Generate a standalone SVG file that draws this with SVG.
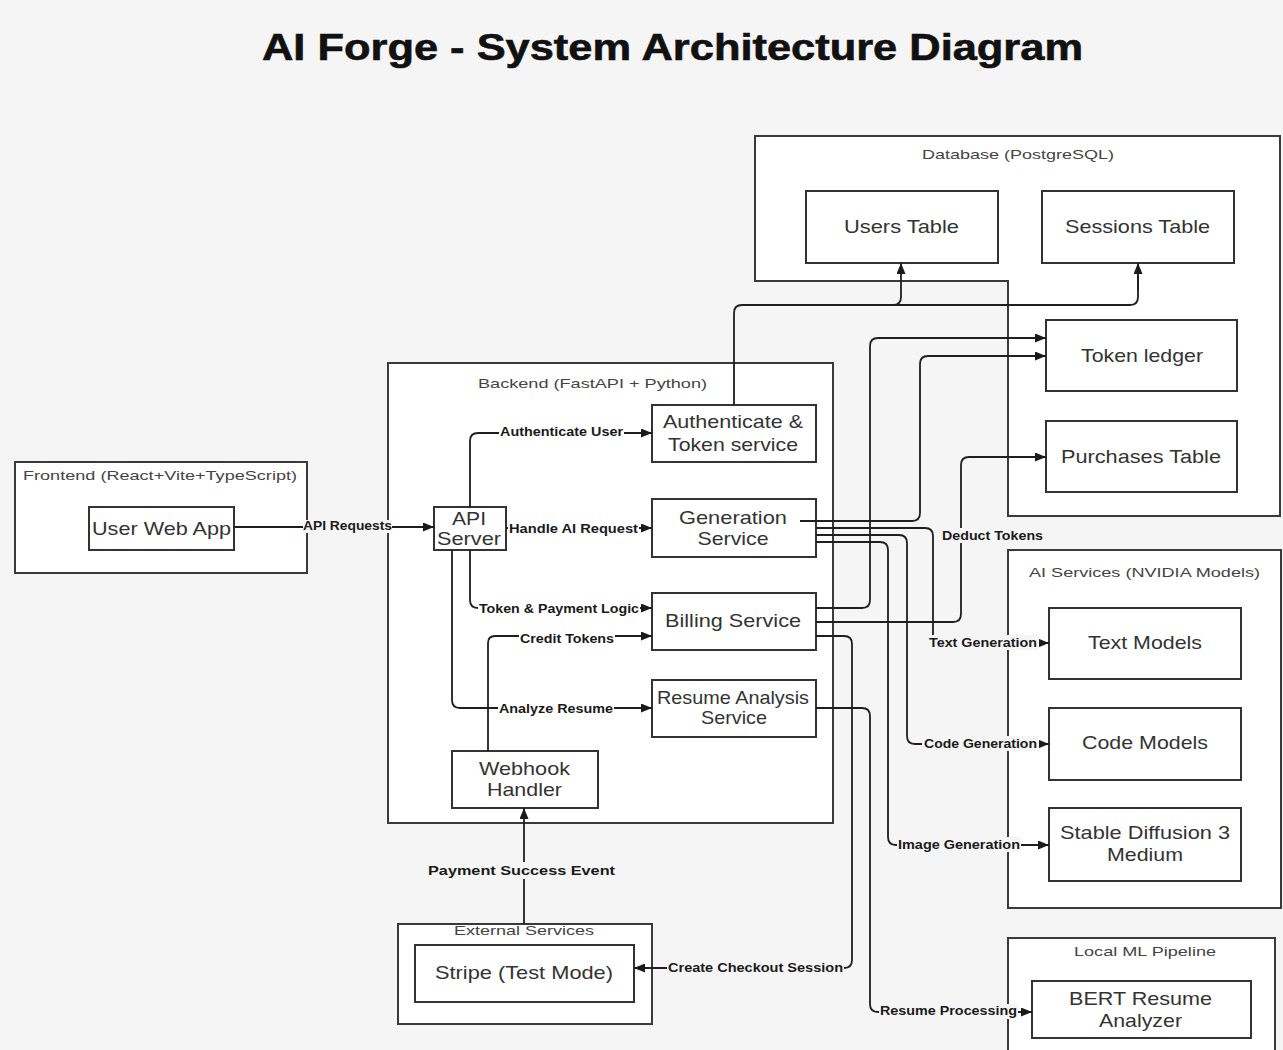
<svg xmlns="http://www.w3.org/2000/svg" width="1283" height="1050" viewBox="0 0 1283 1050">
  <defs>
    <marker id="arrow" markerUnits="userSpaceOnUse" markerWidth="11" markerHeight="9" refX="11" refY="4.5" orient="auto">
      <path d="M0,0 L11,4.5 L0,9 z" fill="#1a1a1a"/>
    </marker>
    <style>
      .bg { fill: #f5f5f5; }
      .group { fill: #ffffff; stroke: #3a3a3a; stroke-width: 2; }
      .box { fill: #ffffff; stroke: #333333; stroke-width: 2; }
      .title { font-family: "Liberation Sans", Arial, sans-serif; font-weight: bold; font-size: 36px; fill: #111111; stroke: #111111; stroke-width: 0.6; text-anchor: middle; }
      .node-text { font-family: "Liberation Sans", Arial, sans-serif; font-size: 19px; fill: #333333; text-anchor: middle; }
      .group-text { font-family: "Liberation Sans", Arial, sans-serif; font-size: 13.5px; fill: #444444; text-anchor: middle; }
      .edge { fill: none; stroke: #1f1f1f; stroke-width: 1.8; marker-end: url(#arrow); }
      .edge-plain { fill: none; stroke: #1f1f1f; stroke-width: 1.8; }
      .edge-label { font-family: "Liberation Sans", Arial, sans-serif; font-weight: bold; font-size: 12.5px; fill: #1a1a1a; text-anchor: middle; }
      .lbl-bg-out { fill: #f5f5f5; }
      .lbl-bg-in { fill: #ffffff; }
    </style>
  </defs>

  <rect class="bg" x="0" y="0" width="1283" height="1050"/>

  <text class="title" x="672.5" y="60" textLength="821" lengthAdjust="spacingAndGlyphs">AI Forge - System Architecture Diagram</text>

  <!-- Container groups -->
  <g id="frontend-group">
    <rect class="group" x="15" y="462" width="292" height="111"/>
    <text class="group-text" x="160" y="480" textLength="274" lengthAdjust="spacingAndGlyphs">Frontend (React+Vite+TypeScript)</text>
  </g>
  <g id="backend-group">
    <rect class="group" x="388" y="363" width="445" height="460"/>
    <text class="group-text" x="592.5" y="388" textLength="229" lengthAdjust="spacingAndGlyphs">Backend (FastAPI + Python)</text>
  </g>
  <g id="database-group">
    <polygon class="group" points="755,136 1280,136 1280,516 1008,516 1008,281 755,281"/>
    <text class="group-text" x="1018" y="159" textLength="192" lengthAdjust="spacingAndGlyphs">Database (PostgreSQL)</text>
  </g>
  <g id="ai-services-group">
    <rect class="group" x="1008" y="550" width="273" height="358"/>
    <text class="group-text" x="1144.5" y="577" textLength="231" lengthAdjust="spacingAndGlyphs">AI Services (NVIDIA Models)</text>
  </g>
  <g id="local-ml-group">
    <rect class="group" x="1008" y="938" width="267" height="120"/>
    <text class="group-text" x="1145" y="956" textLength="142" lengthAdjust="spacingAndGlyphs">Local ML Pipeline</text>
  </g>
  <g id="external-group">
    <rect class="group" x="398" y="924" width="254" height="100"/>
  </g>

  <!-- Nodes -->
  <g id="user-web-app">
    <rect class="box" x="89" y="507" width="145" height="43"/>
    <text class="node-text" x="161.5" y="535" textLength="139" lengthAdjust="spacingAndGlyphs">User Web App</text>
  </g>
  <g id="api-server">
    <rect class="box" x="434" y="507" width="72" height="43"/>
    <text class="node-text" x="469" y="525" textLength="34" lengthAdjust="spacingAndGlyphs">API</text>
    <text class="node-text" x="469" y="545" textLength="64" lengthAdjust="spacingAndGlyphs">Server</text>
  </g>
  <g id="auth-service">
    <rect class="box" x="652" y="405" width="164" height="57"/>
    <text class="node-text" x="733" y="428" textLength="140" lengthAdjust="spacingAndGlyphs">Authenticate &amp;</text>
    <text class="node-text" x="733" y="451" textLength="130" lengthAdjust="spacingAndGlyphs">Token service</text>
  </g>
  <g id="generation-service">
    <rect class="box" x="652" y="499" width="164" height="58"/>
    <text class="node-text" x="733" y="524" textLength="108" lengthAdjust="spacingAndGlyphs">Generation</text>
    <text class="node-text" x="733" y="545" textLength="71" lengthAdjust="spacingAndGlyphs">Service</text>
  </g>
  <g id="billing-service">
    <rect class="box" x="652" y="593" width="164" height="57"/>
    <text class="node-text" x="733" y="627" textLength="136" lengthAdjust="spacingAndGlyphs">Billing Service</text>
  </g>
  <g id="resume-analysis-service">
    <rect class="box" x="652" y="680" width="164" height="57"/>
    <text class="node-text" x="733" y="704" textLength="152" lengthAdjust="spacingAndGlyphs">Resume Analysis</text>
    <text class="node-text" x="734" y="724" textLength="66" lengthAdjust="spacingAndGlyphs">Service</text>
  </g>
  <g id="webhook-handler">
    <rect class="box" x="452" y="751" width="146" height="57"/>
    <text class="node-text" x="524.5" y="775" textLength="91" lengthAdjust="spacingAndGlyphs">Webhook</text>
    <text class="node-text" x="524.5" y="796" textLength="75" lengthAdjust="spacingAndGlyphs">Handler</text>
  </g>
  <g id="users-table">
    <rect class="box" x="806" y="191" width="192" height="72"/>
    <text class="node-text" x="901.5" y="233" textLength="115" lengthAdjust="spacingAndGlyphs">Users Table</text>
  </g>
  <g id="sessions-table">
    <rect class="box" x="1042" y="191" width="192" height="72"/>
    <text class="node-text" x="1137.5" y="233" textLength="145" lengthAdjust="spacingAndGlyphs">Sessions Table</text>
  </g>
  <g id="token-ledger">
    <rect class="box" x="1046" y="320" width="191" height="71"/>
    <text class="node-text" x="1142" y="362" textLength="122" lengthAdjust="spacingAndGlyphs">Token ledger</text>
  </g>
  <g id="purchases-table">
    <rect class="box" x="1046" y="421" width="191" height="71"/>
    <text class="node-text" x="1141" y="463" textLength="160" lengthAdjust="spacingAndGlyphs">Purchases Table</text>
  </g>
  <g id="text-models">
    <rect class="box" x="1049" y="608" width="192" height="71"/>
    <text class="node-text" x="1145" y="649" textLength="114" lengthAdjust="spacingAndGlyphs">Text Models</text>
  </g>
  <g id="code-models">
    <rect class="box" x="1049" y="708" width="192" height="72"/>
    <text class="node-text" x="1145" y="749" textLength="126" lengthAdjust="spacingAndGlyphs">Code Models</text>
  </g>
  <g id="stable-diffusion">
    <rect class="box" x="1049" y="808" width="192" height="73"/>
    <text class="node-text" x="1145" y="839" textLength="170" lengthAdjust="spacingAndGlyphs">Stable Diffusion 3</text>
    <text class="node-text" x="1145" y="861" textLength="76" lengthAdjust="spacingAndGlyphs">Medium</text>
  </g>
  <g id="bert-analyzer">
    <rect class="box" x="1032" y="981" width="219" height="57"/>
    <text class="node-text" x="1140.5" y="1005" textLength="143" lengthAdjust="spacingAndGlyphs">BERT Resume</text>
    <text class="node-text" x="1140.5" y="1027" textLength="83" lengthAdjust="spacingAndGlyphs">Analyzer</text>
  </g>
  <g id="stripe">
    <rect class="box" x="415" y="945" width="219" height="57"/>
    <text class="node-text" x="524" y="979" textLength="178" lengthAdjust="spacingAndGlyphs">Stripe (Test Mode)</text>
  </g>

  <!-- Connectors -->
  <g id="connectors">
    <path class="edge" d="M234,527 H434"/>
    <path class="edge" d="M470,507 V441 Q470,433 478,433 H652"/>
    <path class="edge" d="M506,528 H652"/>
    <path class="edge" d="M470,550 V600 Q470,608 478,608 H652"/>
    <path class="edge" d="M452,550 V700 Q452,708 460,708 H652"/>
    <path class="edge" d="M488,751 V643 Q488,636 495,636 H652"/>
    <path class="edge" d="M524,924 V808"/>
    <path class="edge" d="M816,636 H844 Q852,636 852,644 V960 Q852,968 844,968 H634"/>
    <path class="edge" d="M816,608 H862 Q870,608 870,600 V346 Q870,338 878,338 H1046"/>
    <path class="edge" d="M816,622 H953 Q961,622 961,614 V465 Q961,457 969,457 H1046"/>
    <path class="edge" d="M800,521 H912 Q920,521 920,513 V364 Q920,356 928,356 H1046"/>
    <path class="edge" d="M816,528 H925 Q933,528 933,536 V635 Q933,643 941,643 H1049"/>
    <path class="edge" d="M816,535 H899 Q907,535 907,543 V736 Q907,744 915,744 H1049"/>
    <path class="edge" d="M816,542 H880 Q888,542 888,550 V837 Q888,845 896,845 H1049"/>
    <path class="edge" d="M816,708 H862 Q870,708 870,716 V1004 Q870,1012 878,1012 H1032"/>
    <path class="edge-plain" d="M734,405 V313 Q734,305 742,305 H1130 Q1138,305 1138,297 V275"/>
    <path class="edge" d="M1138,290 V263"/>
    <path class="edge" d="M893,305 Q901,305 901,297 V263"/>
  </g>

  <!-- Connector labels -->
  <g id="connector-labels">
    <rect class="lbl-bg-out" x="303" y="520" width="89" height="13"/>
    <text class="edge-label" x="347.5" y="530" textLength="89" lengthAdjust="spacingAndGlyphs">API Requests</text>

    <rect class="lbl-bg-in" x="499" y="426" width="125" height="13"/>
    <text class="edge-label" x="561.5" y="436" textLength="123" lengthAdjust="spacingAndGlyphs">Authenticate User</text>

    <rect class="lbl-bg-in" x="508" y="522" width="131" height="13"/>
    <text class="edge-label" x="573.5" y="533" textLength="129" lengthAdjust="spacingAndGlyphs">Handle AI Request</text>

    <rect class="lbl-bg-in" x="478" y="602" width="162" height="13"/>
    <text class="edge-label" x="559" y="613" textLength="160" lengthAdjust="spacingAndGlyphs">Token &amp; Payment Logic</text>

    <rect class="lbl-bg-in" x="519" y="631" width="96" height="13"/>
    <text class="edge-label" x="567" y="643" textLength="94" lengthAdjust="spacingAndGlyphs">Credit Tokens</text>

    <rect class="lbl-bg-in" x="498" y="701" width="116" height="13"/>
    <text class="edge-label" x="556" y="713" textLength="114" lengthAdjust="spacingAndGlyphs">Analyze Resume</text>

    <rect class="lbl-bg-out" x="940" y="528" width="105" height="15"/>
    <text class="edge-label" x="992.5" y="540" textLength="101" lengthAdjust="spacingAndGlyphs">Deduct Tokens</text>

    <rect class="lbl-bg-out" x="927" y="635" width="112" height="15"/>
    <text class="edge-label" x="983" y="647" textLength="108" lengthAdjust="spacingAndGlyphs">Text Generation</text>

    <rect class="lbl-bg-out" x="922" y="736" width="117" height="15"/>
    <text class="edge-label" x="980.5" y="748" textLength="113" lengthAdjust="spacingAndGlyphs">Code Generation</text>

    <rect class="lbl-bg-out" x="897" y="837" width="124" height="15"/>
    <text class="edge-label" x="959" y="849" textLength="122" lengthAdjust="spacingAndGlyphs">Image Generation</text>

    <rect class="lbl-bg-out" x="879" y="1004" width="139" height="15"/>
    <text class="edge-label" x="948.5" y="1015" textLength="137" lengthAdjust="spacingAndGlyphs">Resume Processing</text>

    <rect class="lbl-bg-out" x="667" y="960" width="177" height="15"/>
    <text class="edge-label" x="755.5" y="972" textLength="175" lengthAdjust="spacingAndGlyphs">Create Checkout Session</text>

    <rect class="lbl-bg-out" x="426" y="862" width="191" height="17"/>
    <text class="edge-label" x="521.5" y="875" textLength="187" lengthAdjust="spacingAndGlyphs">Payment Success Event</text>
  </g>

  <!-- External services caption sits on top of the group border -->
  <text class="group-text" x="524" y="935" textLength="140" lengthAdjust="spacingAndGlyphs">External Services</text>
</svg>
